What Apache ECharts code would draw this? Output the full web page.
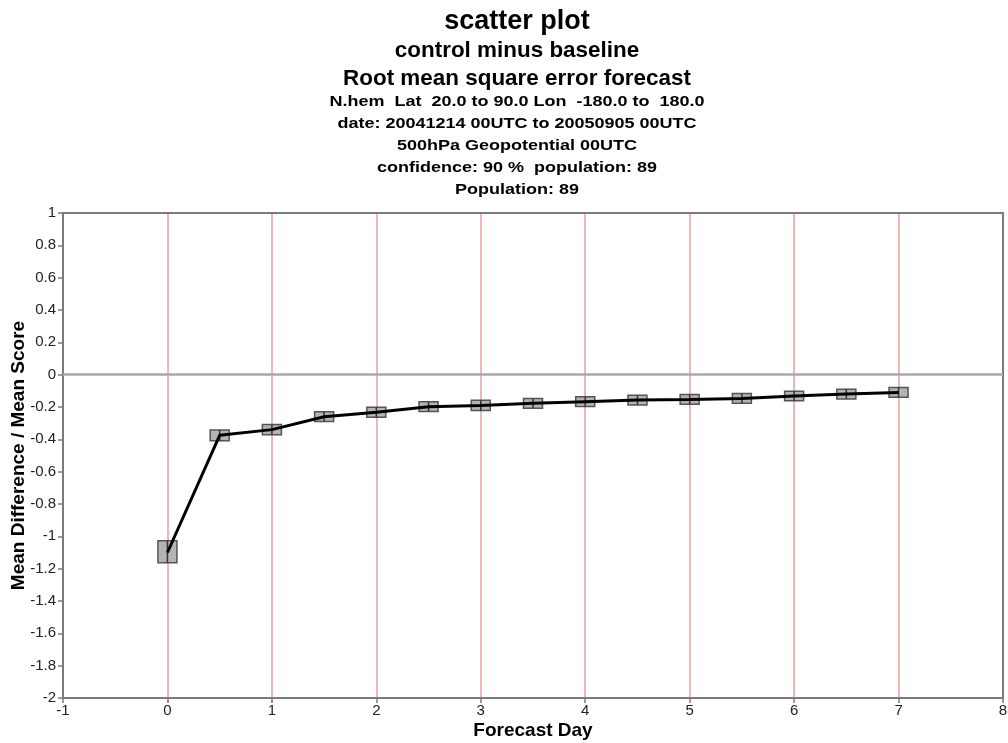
<!DOCTYPE html>
<html>
<head>
<meta charset="utf-8">
<style>
  html, body { margin: 0; padding: 0; background: #ffffff; }
  #chart { width: 1008px; height: 743px; }
</style>
<script src="https://cdn.jsdelivr.net/npm/echarts@6/dist/echarts.min.js"></script>
</head>
<body>
<div id="chart"></div>
<script>
// Forecast lead time (days)
const forecastDays = [0, 0.5, 1, 1.5, 2, 2.5, 3, 3.5, 4, 4.5, 5, 5.5, 6, 6.5, 7];
// Mean normalised RMSE difference (control minus baseline)
const meanScore = [-1.10, -0.375, -0.34, -0.26, -0.233, -0.198, -0.19, -0.177, -0.167, -0.157, -0.153, -0.147, -0.132, -0.12, -0.11];
// 90 % confidence interval bounds
const ciLower = [-1.163, -0.408, -0.372, -0.29, -0.264, -0.228, -0.221, -0.207, -0.197, -0.187, -0.183, -0.177, -0.162, -0.15, -0.14];
const ciUpper = [-1.027, -0.342, -0.308, -0.23, -0.202, -0.168, -0.159, -0.147, -0.137, -0.127, -0.123, -0.117, -0.102, -0.09, -0.08];

const titleLines = [
  'scatter plot',
  'control minus baseline',
  'Root mean square error forecast',
  'N.hem  Lat  20.0 to 90.0 Lon  -180.0 to  180.0',
  'date: 20041214 00UTC to 20050905 00UTC',
  '500hPa Geopotential 00UTC',
  'confidence: 90 %  population: 89',
  'Population: 89'
];
const xAxisName = 'Forecast Day';
const yAxisName = 'Mean Difference / Mean Score';

const FONT = '"Liberation Sans", Arial, Helvetica, sans-serif';
const titleStyles = [
  { y: 22, size: 27, sx: 1 },
  { y: 51, size: 22, sx: 1.02 },
  { y: 79, size: 22, sx: 1.02 },
  { y: 102, size: 15, sx: 1.2 },
  { y: 124, size: 15, sx: 1.2 },
  { y: 146, size: 15, sx: 1.2 },
  { y: 168, size: 15, sx: 1.2 },
  { y: 190, size: 15, sx: 1.2 }
];

const chart = echarts.init(document.getElementById('chart'), null, { renderer: 'canvas' });

const lineData = forecastDays.map((d, i) => [d, meanScore[i]]);
const boxData = forecastDays.map((d, i) => [d, ciLower[i], ciUpper[i]]);

const axisGray = '#7a7a7a';

chart.setOption({
  animation: false,
  backgroundColor: '#ffffff',
  graphic: titleLines.map((t, i) => ({
    type: 'text',
    x: 517,
    y: titleStyles[i].y,
    scaleX: titleStyles[i].sx,
    style: {
      text: t,
      fontFamily: FONT,
      fontWeight: 'bold',
      fontSize: titleStyles[i].size,
      fill: '#000',
      textAlign: 'center',
      textVerticalAlign: 'middle'
    }
  })),
  grid: { left: 63, right: 5, top: 213, bottom: 45, outerBoundsMode: 'none', containLabel: false },
  xAxis: [{
    type: 'value',
    min: -1, max: 8, interval: 1,
    name: xAxisName,
    nameLocation: 'middle',
    nameGap: 23,
    nameMoveOverlap: false,
    nameTextStyle: { fontFamily: FONT, fontWeight: 'bold', fontSize: 19, color: '#000' },
    axisLine: { show: true, onZero: false, lineStyle: { color: axisGray, width: 2 } },
    axisTick: { show: true, length: 5, lineStyle: { color: axisGray, width: 1.5 } },
    axisLabel: { fontFamily: FONT, fontSize: 15, color: '#222', margin: 5 },
    splitLine: { show: true, showMinLine: false, showMaxLine: false, lineStyle: { color: '#e8a0a0', width: 1.5 } }
  }, {
    type: 'value', position: 'top', min: -1, max: 8, interval: 1,
    axisLine: { show: true, onZero: false, lineStyle: { color: axisGray, width: 2 } },
    axisTick: { show: false }, axisLabel: { show: false }, splitLine: { show: false }
  }],
  yAxis: [{
    type: 'value',
    min: -2, max: 1, interval: 0.2,
    name: yAxisName,
    nameLocation: 'middle',
    nameGap: 35,
    nameMoveOverlap: false,
    nameTextStyle: { fontFamily: FONT, fontWeight: 'bold', fontSize: 19, color: '#000' },
    axisLine: { show: true, onZero: false, lineStyle: { color: axisGray, width: 2 } },
    axisTick: { show: true, length: 5, lineStyle: { color: axisGray, width: 1.5 } },
    axisLabel: {
      fontFamily: FONT, fontSize: 15, color: '#222', margin: 7,
      formatter: v => String(Math.round(v * 10) / 10)
    },
    splitLine: { show: false }
  }, {
    type: 'value', position: 'right', min: -2, max: 1, interval: 0.2,
    axisLine: { show: true, onZero: false, lineStyle: { color: axisGray, width: 2 } },
    axisTick: { show: false }, axisLabel: { show: false }, splitLine: { show: false }
  }],
  series: [
    {
      // confidence-interval boxes
      type: 'custom',
      z: 3,
      silent: true,
      data: boxData,
      renderItem: (params, api) => {
        const x = api.value(0);
        const lo = api.coord([x, api.value(1)]);
        const hi = api.coord([x, api.value(2)]);
        const w = 19;
        const h = lo[1] - hi[1];
        return {
          type: 'group',
          children: [
            {
              type: 'rect',
              shape: { x: lo[0] - w / 2, y: hi[1], width: w, height: h },
              style: { fill: '#b4b4b4', stroke: '#555555', lineWidth: 1.5 }
            },
            {
              type: 'line',
              shape: { x1: lo[0], y1: hi[1], x2: lo[0], y2: lo[1] },
              style: { stroke: '#333333', lineWidth: 1.5 }
            }
          ]
        };
      }
    },
    {
      type: 'line',
      z: 5,
      data: lineData,
      symbol: 'none',
      lineStyle: { color: '#000000', width: 3 },
      markLine: {
        silent: true,
        symbol: 'none',
        z: 2,
        label: { show: false },
        lineStyle: { color: '#a8a8a8', width: 2.5, type: 'solid' },
        data: [{ yAxis: 0 }]
      }
    }
  ]
});
</script>
</body>
</html>
